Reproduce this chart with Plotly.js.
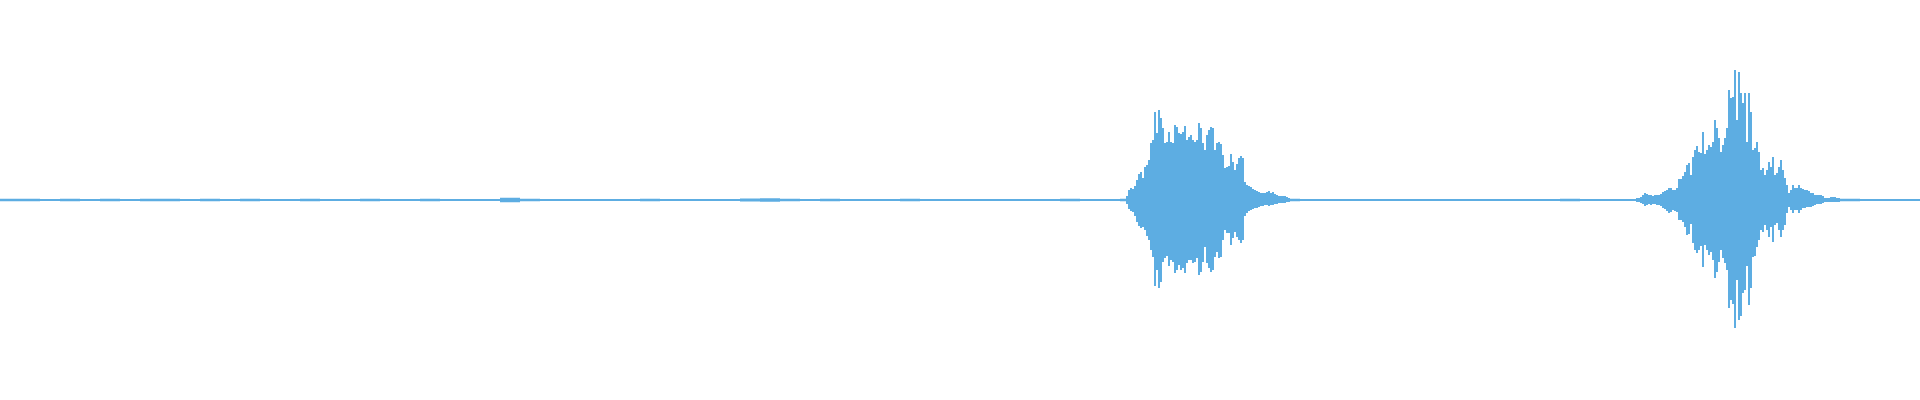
<!DOCTYPE html>
<html>
<head>
<meta charset="utf-8">
<script src="https://cdn.plot.ly/plotly-3.0.1.min.js"></script>
<style>html,body{margin:0;padding:0;background:#fff;}#chart{width:1920px;height:400px;}</style>
</head>
<body>
<div id="chart"></div>
<script>
// Waveform peak envelope (amplitude units, full scale = ±200), time in seconds
const DURATION = 19.2;

// Background noise level, 0.2 s windows (symmetric peak)
const noiseStep = 0.2;
const noiseLevel = [
  1.2,1.2,1.0,1.2,1.0,1.2,1.0,1.2,1.2,1.0,
  1.2,1.0,1.2,1.0,1.0,1.2,1.0,1.0,1.2,1.0,
  1.0,1.2,1.0,1.0,1.0,2.2,1.2,1.0,1.0,1.0,
  1.0,1.0,1.2,1.0,1.0,1.0,1.0,1.5,1.8,1.2,
  1.0,1.2,1.0,1.0,1.0,1.2,1.0,1.0,1.0,1.0,
  1.0,1.0,1.0,1.2,1.0,1.0,1.2,1.2,1.0,1.0,
  1.0,1.0,1.0,1.0,1.2,1.0,1.0,1.0,1.0,1.0,
  1.0,1.0,1.0,1.0,1.0,1.0,1.0,1.0,1.2,1.0,
  1.0,1.0,1.0,1.0,1.0,1.0,1.0,1.0,1.0,1.0,
  1.0,1.0,1.2,1.0,1.0,1.0
];

// Burst 1: 0.02 s windows starting at 11.26 s
const burst1Start = 11.26;
const burstStep = 0.02;
const burst1Max = [
  4,10,12,11,14,20,26,28,22,33,35,40,57,60,88,67,90,82,72,57,
  58,68,58,57,75,73,67,66,68,74,60,63,65,60,58,60,77,72,57,50,
  65,70,73,72,50,57,58,56,45,32,33,34,46,38,30,36,42,44,42,18,
  15,14,13,11,10,9,8,7,7,7,8,9,7,8,6,5,4,4,4,4,3,2
];
const burst1Min = [
  4,9,11,12,16,22,26,28,27,30,36,40,50,57,86,70,88,82,62,58,
  56,66,60,62,73,70,65,70,68,73,63,60,60,63,62,58,75,72,62,47,
  63,68,72,70,57,52,58,57,40,30,33,33,45,38,32,37,40,43,40,16,
  13,11,10,9,8,8,7,6,6,5,5,6,5,5,4,4,3,3,3,3,2,2
];

// Burst 2: 0.02 s windows starting at 16.36 s
const burst2Start = 16.36;
const burst2Max = [
  2,2,3,5,7,6,5,5,4,5,5,5,6,8,9,10,12,12,10,10,
  12,21,21,24,28,35,37,25,43,50,54,48,47,68,46,50,55,53,58,80,
  72,62,48,55,62,72,110,102,103,130,80,128,107,97,107,58,107,88,50,52,
  58,48,30,32,25,30,38,33,43,25,27,33,40,30,22,15,7,10,15,12,
  12,15,12,11,10,10,9,7,7,5,5,5,5,4,2,2,2,3,3,3,2,2
];
const burst2Min = [
  2,2,3,4,6,5,4,5,4,4,5,5,6,8,9,11,13,12,10,11,
  12,20,20,22,27,35,34,24,43,50,53,50,46,67,45,50,55,52,60,78,
  72,62,50,58,63,70,108,100,104,128,80,120,116,93,90,66,105,88,57,56,
  47,40,30,32,25,30,37,27,42,25,23,30,37,30,25,13,7,10,13,10,
  10,13,10,8,8,7,7,7,6,5,4,4,4,3,2,2,2,2,2,2,2,2
];

const COLOR = '#5dade2';

// Step-shaped filled envelope: upper edge then lower edge filled to it
function envelopeTraces(start, step, maxArr, minArr) {
  const n = maxArr.length;
  const x = [];
  for (let i = 0; i <= n; i++) x.push(start + i * step);
  const up = maxArr.concat([maxArr[n - 1]]);
  const lo = minArr.map(v => -v).concat([-minArr[n - 1]]);
  const common = {
    type: 'scatter', mode: 'lines', x: x,
    line: {shape: 'hv', width: 0, color: COLOR},
    hoverinfo: 'skip'
  };
  return [
    Object.assign({}, common, {y: up}),
    Object.assign({}, common, {y: lo, fill: 'tonexty', fillcolor: COLOR})
  ];
}

const traces = []
  .concat(envelopeTraces(0, noiseStep, noiseLevel, noiseLevel))
  .concat(envelopeTraces(burst1Start, burstStep, burst1Max, burst1Min))
  .concat(envelopeTraces(burst2Start, burstStep, burst2Max, burst2Min));

const layout = {
  width: 1920,
  height: 400,
  margin: {l: 0, r: 0, t: 0, b: 0, pad: 0},
  paper_bgcolor: '#ffffff',
  plot_bgcolor: '#ffffff',
  showlegend: false,
  xaxis: {range: [0, DURATION], visible: false, fixedrange: true},
  yaxis: {range: [-200, 200], visible: false, fixedrange: true}
};

Plotly.newPlot('chart', traces, layout, {displayModeBar: false, staticPlot: true});
</script>
</body>
</html>
